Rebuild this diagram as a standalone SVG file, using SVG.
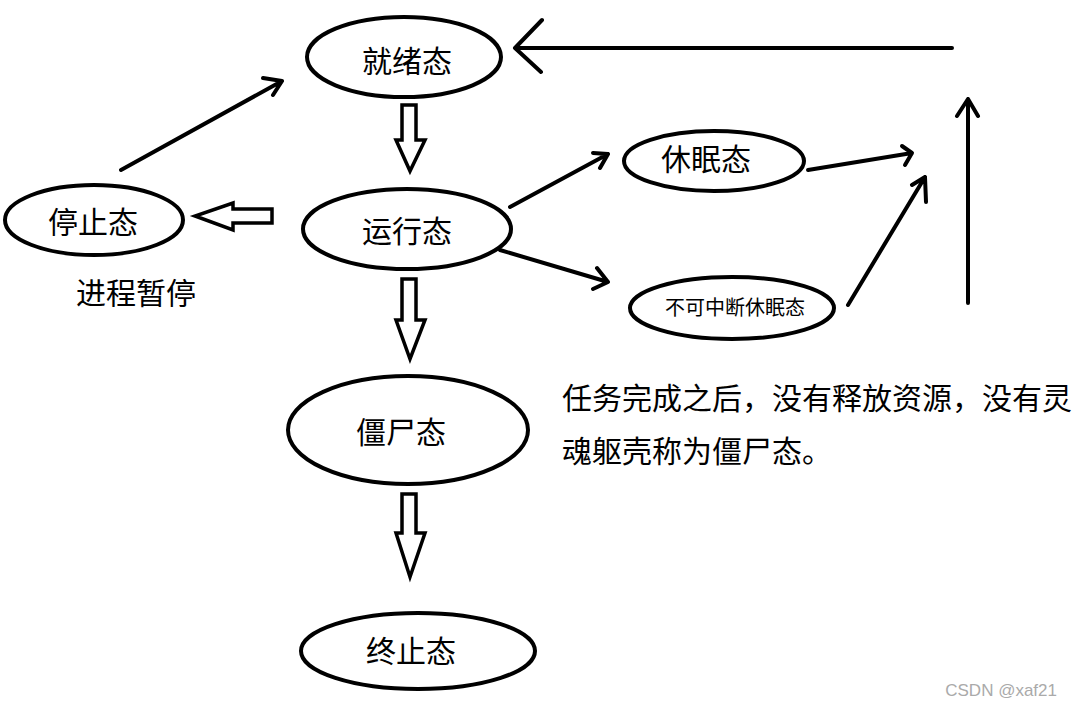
<svg xmlns="http://www.w3.org/2000/svg" width="1075" height="707" viewBox="0 0 1075 707">
<style>
.n{fill:#fff;stroke:#000;stroke-width:4}
.t{font-family:"Microsoft YaHei","Noto Sans CJK SC",sans-serif;font-size:30px;fill:#000;text-anchor:middle}
.s{font-size:20px}
.l{font-family:"Microsoft YaHei","Noto Sans CJK SC",sans-serif;font-size:30px;fill:#000}
.c{fill:none;stroke:#000;stroke-width:4;stroke-linecap:round;stroke-linejoin:round}
.b{fill:#fff;stroke:#000;stroke-width:3.5;stroke-linejoin:miter}
</style>
<rect width="1075" height="707" fill="#fff"/>
<g id="connectors">
<path class="c" d="M952,48 H515 M542,20 L515,48 L541,72"/>
<path class="c" d="M968,303 V99 M957,116 L968,99 L978,116"/>
<path class="c" d="M121,170 L282,81 M263,78 L282,81 L273,95"/>
<path class="c" d="M510,207 L608,154 M593,153 L608,154 L600,168"/>
<path class="c" d="M500,250 L608,282 M597,268 L608,282 L593,289"/>
<path class="c" d="M808,170 L912,153 M902,146 L912,153 L905,165"/>
<path class="c" d="M848,305 L925,177 M912,185 L925,177 L926,202"/>
<path class="b" d="M402,105 H416 V140 H425 L410,171 L396,140 H402 Z"/>
<path class="b" d="M402,279 H416 V320 H425 L410,359 L396,320 H402 Z"/>
<path class="b" d="M402,494 H416 V533 H425 L410,577 L396,533 H402 Z"/>
<path class="b" d="M272,209 V223 H233 V230 L195,216 L233,203 V209 Z"/>
</g>
<g id="ready"><ellipse class="n" cx="404" cy="57" rx="97" ry="40"/><text class="t" x="407" y="72">就绪态</text></g>
<g id="stopped"><ellipse class="n" cx="94" cy="220" rx="89" ry="35"/><text class="t" x="93" y="233">停止态</text></g>
<g id="running"><ellipse class="n" cx="407" cy="229" rx="104" ry="40"/><text class="t" x="407" y="242">运行态</text></g>
<g id="sleeping"><ellipse class="n" cx="714" cy="161" rx="90" ry="30"/><text class="t" x="706" y="170">休眠态</text></g>
<g id="uninterruptible"><ellipse class="n" cx="732" cy="308" rx="102" ry="31"/><text class="t s" x="735" y="315">不可中断休眠态</text></g>
<g id="zombie"><ellipse class="n" cx="408" cy="430" rx="120" ry="54"/><text class="t" x="401" y="443">僵尸态</text></g>
<g id="terminated"><ellipse class="n" cx="418" cy="651" rx="117" ry="38"/><text class="t" x="411" y="662">终止态</text></g>
<g id="notes">
<text class="t" x="136" y="304">进程暂停</text>
<text class="l" x="562" y="409">任务完成之后，没有释放资源，没有灵</text>
<text class="l" x="562" y="462">魂躯壳称为僵尸态。</text>
<text x="1057" y="696" font-family="Liberation Sans,Arial,sans-serif" font-size="17" fill="#aaa" text-anchor="end">CSDN @xaf21</text>
</g>
</svg>
